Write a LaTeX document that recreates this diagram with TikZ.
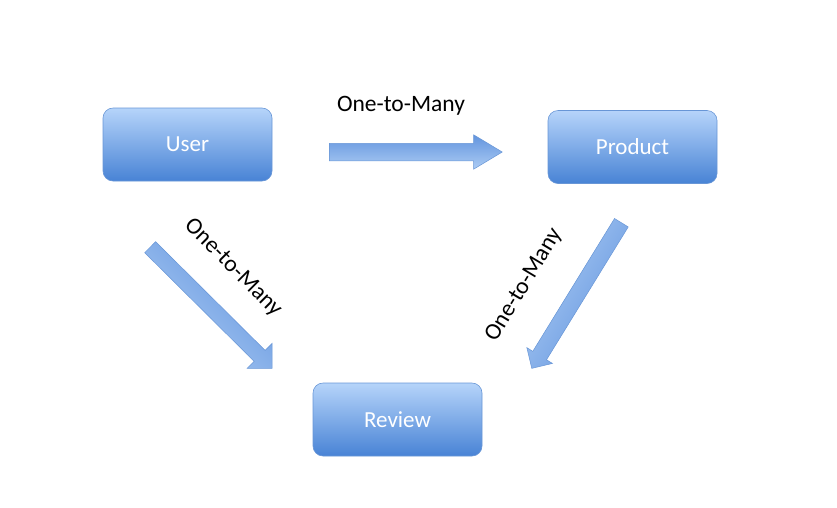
\documentclass[tikz,border=0pt]{standalone}
\usepackage{fontspec}
\setmainfont{Carlito}
\usetikzlibrary{shapes.arrows}

\definecolor{boxtop}{RGB}{182,212,250}
\definecolor{boxbot}{RGB}{72,131,213}
\definecolor{boxline}{RGB}{104,150,214}
\definecolor{arrdark}{RGB}{98,148,222}
\definecolor{arrlight}{RGB}{172,204,244}

\tikzset{
  entity/.style={rounded corners=10pt, draw=boxline, line width=0.6pt,
    top color=boxtop, bottom color=boxbot, text=white,
    minimum width=169pt, minimum height=73pt, font=\fontsize{23}{27}\selectfont},
  relarrow/.style={single arrow, draw=boxline, line width=0.5pt,
    top color=arrdark, bottom color=arrlight, inner xsep=0pt,
    single arrow head indent=0pt, anchor=tail},
  rel/.style={font=\fontsize{23.5}{28}\selectfont}
}

\begin{document}
\begin{tikzpicture}[x=1pt,y=-1pt]
  \useasboundingbox (0,0) rectangle (837,507);

  % entities
  \node[entity] (user) at (187.5,144.5) {User};
  \node[entity] (product) at (632.5,147) {Product};
  \node[entity] (review) at (397.5,419.5) {Review};

  % relations
  \node[relarrow, minimum height=173pt, inner ysep=8.5pt,
        single arrow head extend=8.5pt, single arrow tip angle=62]
        (userproduct) at (329,152) {};
  \node[rel] (lblup) at (401,106) {One-to-Many};

  \node[relarrow, minimum height=172pt, inner ysep=7.5pt,
        single arrow head extend=10pt, single arrow tip angle=90,
        rotate=-44.8, shading angle=-44.8]
        (userreview) at (150,247) {};
  \node[rel, rotate=-45] (lblur) at (233,268) {One-to-Many};

  \node[relarrow, minimum height=171pt, inner ysep=7.8pt,
        single arrow head extend=7pt, single arrow tip angle=90,
        rotate=-121.6, shading angle=-121.6]
        (productreview) at (621.5,222.5) {};
  \node[rel, rotate=59] (lblpr) at (524,285) {One-to-Many};
\end{tikzpicture}
\end{document}
